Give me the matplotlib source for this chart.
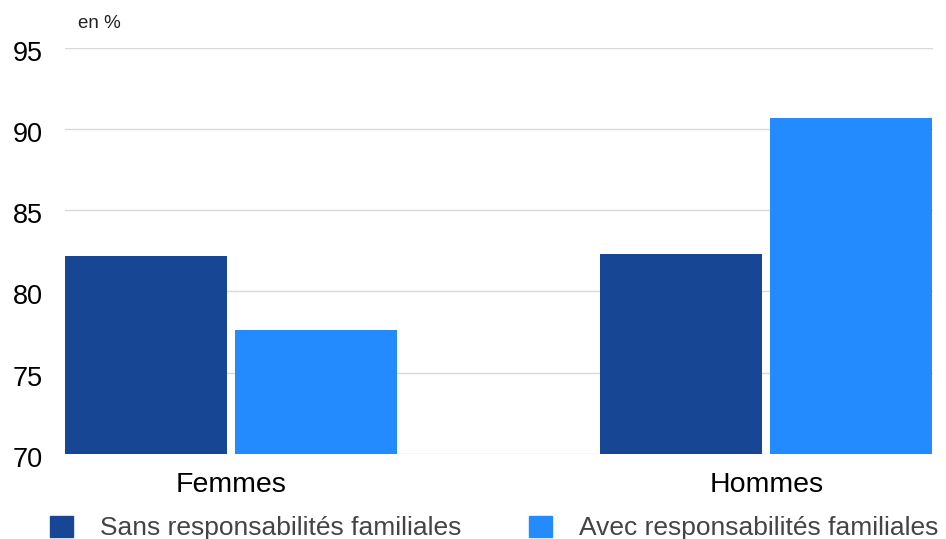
import matplotlib.pyplot as plt
import matplotlib.transforms as mtransforms
from matplotlib.patches import Patch
import numpy as np

plt.rcParams['font.family'] = ['Liberation Sans', 'DejaVu Sans']

categories = ['Femmes', 'Hommes']
sans_resp = [82.2, 82.3]
avec_resp = [77.6, 90.7]
series_names = ['Sans responsabilités familiales', 'Avec responsabilités familiales']
colors = ['#174794', '#248bff']

fig = plt.figure(figsize=(9.46, 5.39), dpi=100)
ax = fig.add_axes([0.0687, 0.158, 0.9175, 0.753])

x = np.arange(len(categories))
w = 0.3025
off = w / 2 + 0.0075
ax.bar(x - off, sans_resp, w, color=colors[0], zorder=3)
ax.bar(x + off, avec_resp, w, color=colors[1], zorder=3)

ax.set_ylim(70, 95)
ax.set_xlim(-0.31, 1.311)
ax.set_yticks([70, 75, 80, 85, 90, 95])
ax.grid(axis='y', color='#d9d9d9', linewidth=1, zorder=0)
for s in ax.spines.values():
    s.set_visible(False)
ax.tick_params(axis='y', length=0, labelsize=19.5, pad=16)
ax.tick_params(axis='x', length=0, labelsize=20.5, pad=13)
ax.set_xticks(x)
ax.set_xticklabels(categories)

# labels sit a little below their grid lines
shift = mtransforms.ScaledTranslation(0, -3 / 100, fig.dpi_scale_trans)
for lbl in ax.get_yticklabels():
    lbl.set_transform(lbl.get_transform() + shift)

fig.text(78 / 946, 1 - 23 / 539, 'en %', fontsize=13.5, va='center', ha='left', color='#222222')

handles = [Patch(color=c) for c in colors]
fig.legend(handles, series_names, loc='center left', bbox_to_anchor=(50 / 946, 1 - 528 / 539),
           ncol=2, frameon=False, fontsize=19, handlelength=0.87, handleheight=0.87,
           handletextpad=1.02, columnspacing=2.56, borderpad=0, borderaxespad=0,
           labelcolor='#444444')

fig.savefig('out.png', dpi=100)
